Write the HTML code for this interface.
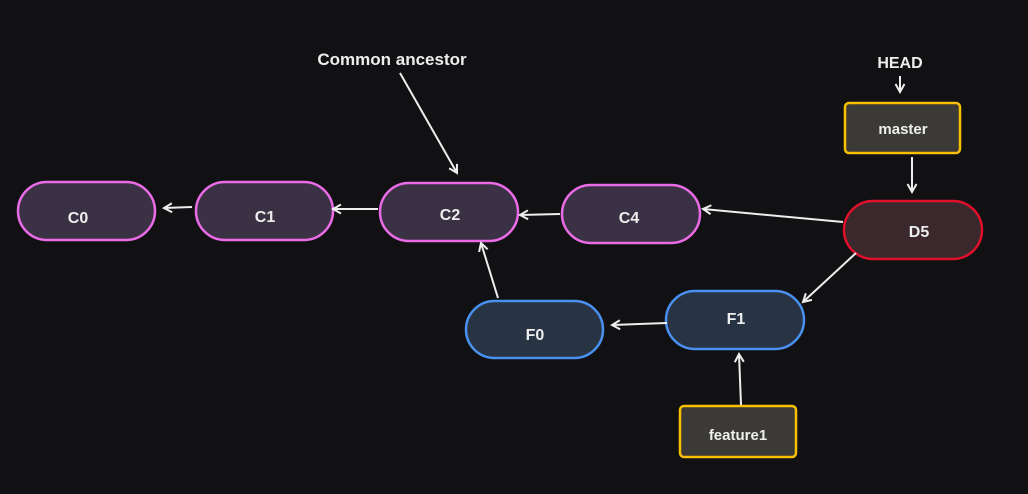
<!DOCTYPE html>
<html><head><style>
body{margin:0;background:#111114;}
svg{display:block}
text{font-family:"Liberation Sans",sans-serif;font-weight:bold;fill:#eee;text-anchor:middle;}
</style></head><body>
<svg width="1028" height="494" viewBox="0 0 1028 494">
<defs><marker id="a" markerWidth="12" markerHeight="12" refX="9" refY="6" orient="auto" markerUnits="userSpaceOnUse"><path d="M1,1.5 L9,6 L1,10.5" fill="none" stroke="#eee" stroke-width="2"/></marker></defs>
<rect width="1028" height="494" fill="#111114"/>
<g stroke-width="2.5">
<rect x="18" y="182" width="137" height="58" rx="29" fill="#3a3244" stroke="#ea6be6"/>
<rect x="196" y="182" width="137" height="58" rx="29" fill="#3a3244" stroke="#ea6be6"/>
<rect x="380" y="183" width="138" height="58" rx="29" fill="#3a3244" stroke="#ea6be6"/>
<rect x="562" y="185" width="138" height="58" rx="29" fill="#3a3244" stroke="#ea6be6"/>
<rect x="844" y="201" width="138" height="58" rx="29" fill="#3a282d" stroke="#e0102a"/>
<rect x="466" y="301" width="137" height="57" rx="28.5" fill="#283343" stroke="#4a90f0"/>
<rect x="666" y="291" width="138" height="58" rx="29" fill="#283343" stroke="#4a90f0"/>
<rect x="845" y="103" width="115" height="50" rx="4" fill="#3b3a36" stroke="#f7c000"/>
<rect x="680" y="406" width="116" height="51" rx="4" fill="#3b3a36" stroke="#f7c000"/>
</g>
<g stroke="#eee" stroke-width="2" marker-end="url(#a)">
<line x1="192" y1="207" x2="164" y2="208"/>
<line x1="378" y1="209" x2="333" y2="209"/>
<line x1="560" y1="214" x2="520" y2="215"/>
<line x1="843" y1="222" x2="703" y2="209"/>
<line x1="856" y1="253" x2="803" y2="302"/>
<line x1="667" y1="323" x2="612" y2="325"/>
<line x1="498" y1="298" x2="481" y2="243"/>
<line x1="741" y1="405" x2="739" y2="354"/>
<line x1="912" y1="157" x2="912" y2="192"/>
<line x1="900" y1="76" x2="900" y2="92"/>
<line x1="400" y1="73" x2="457" y2="173"/>
</g>
<g font-size="16">
<text x="78" y="223">C0</text>
<text x="265" y="222">C1</text>
<text x="450" y="220">C2</text>
<text x="629" y="223">C4</text>
<text x="919" y="237">D5</text>
<text x="535" y="340">F0</text>
<text x="736" y="324">F1</text>
</g>
<text x="903" y="134" font-size="15" style="font-weight:600">master</text>
<text x="738" y="440" font-size="15" style="font-weight:600">feature1</text>
<text x="392" y="65" font-size="17">Common ancestor</text>
<text x="900" y="68" font-size="16">HEAD</text>
</svg>
</body></html>
